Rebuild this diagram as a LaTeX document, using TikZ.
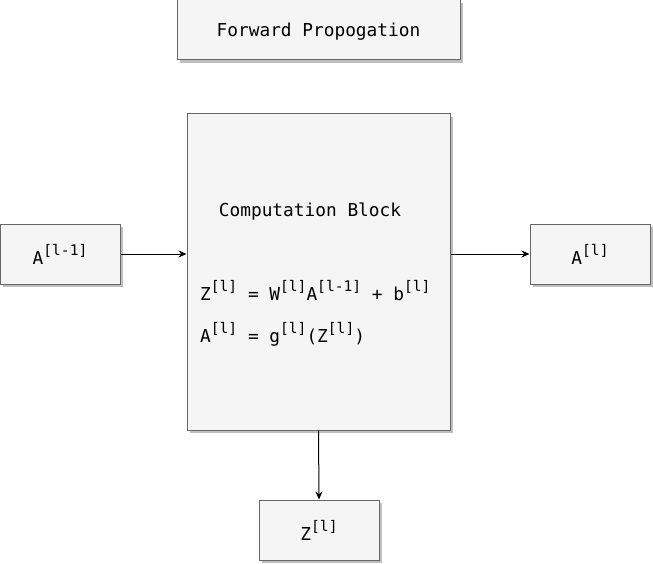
\documentclass[tikz,border=0pt]{standalone}
\usepackage{fontspec}
\setmainfont{DejaVu Sans Mono}
\usepackage{xcolor}
\usetikzlibrary{arrows.meta,shadows}

\definecolor{boxfill}{HTML}{F5F5F5}
\definecolor{boxline}{HTML}{666666}
\newcommand{\lsup}[1]{\raisebox{0.5em}{\fontsize{14.6}{14.6}\selectfont #1}}

\begin{document}
\begin{tikzpicture}[x=1pt, y=-1pt,
  block/.style={draw=boxline, fill=boxfill, line width=1pt, inner sep=0pt,
    drop shadow={shadow xshift=3pt, shadow yshift=-3pt, fill=black!25, opacity=1}},
  lbl/.style={font=\fontsize{17.8}{21}\selectfont, inner sep=0pt},
  flow/.style={-{Stealth[length=8pt,width=7pt]}, line width=1pt}]

\useasboundingbox (0,0) rectangle (653,564);

% Title
\node[block, lbl, text depth=0pt, minimum width=283pt, minimum height=60pt] (title) at (318.5,30) {Forward Propogation};

% Computation block
\node[block, minimum width=263pt, minimum height=316pt] (comp) at (318.5,272) {};
\node[lbl, anchor=base] (comptitle) at (310,217) {Computation Block};
\node[lbl, anchor=base west] (zeq) at (200,300) {Z\lsup{[l]} = W\lsup{[l]}A\lsup{[l-1]} + b\lsup{[l]}};
\node[lbl, anchor=base west] (aeq) at (200,342) {A\lsup{[l]} = g\lsup{[l]}(Z\lsup{[l]})};

% Inputs and outputs
\node[block, lbl, minimum width=120pt, minimum height=60pt] (aprev) at (60,254) {A\lsup{[l-1]}};
\node[block, lbl, minimum width=120pt, minimum height=60pt] (anext) at (590,254) {A\lsup{[l]}};
\node[block, lbl, minimum width=120pt, minimum height=60pt] (zout) at (319,530) {Z\lsup{[l]}};

% Connections
\draw[flow] (aprev.east) -- (aprev.east -| comp.west);
\draw[flow] (comp.east |- anext.west) -- (anext.west);
\draw[flow] (comp.south) -- (zout.north);

\end{tikzpicture}
\end{document}
